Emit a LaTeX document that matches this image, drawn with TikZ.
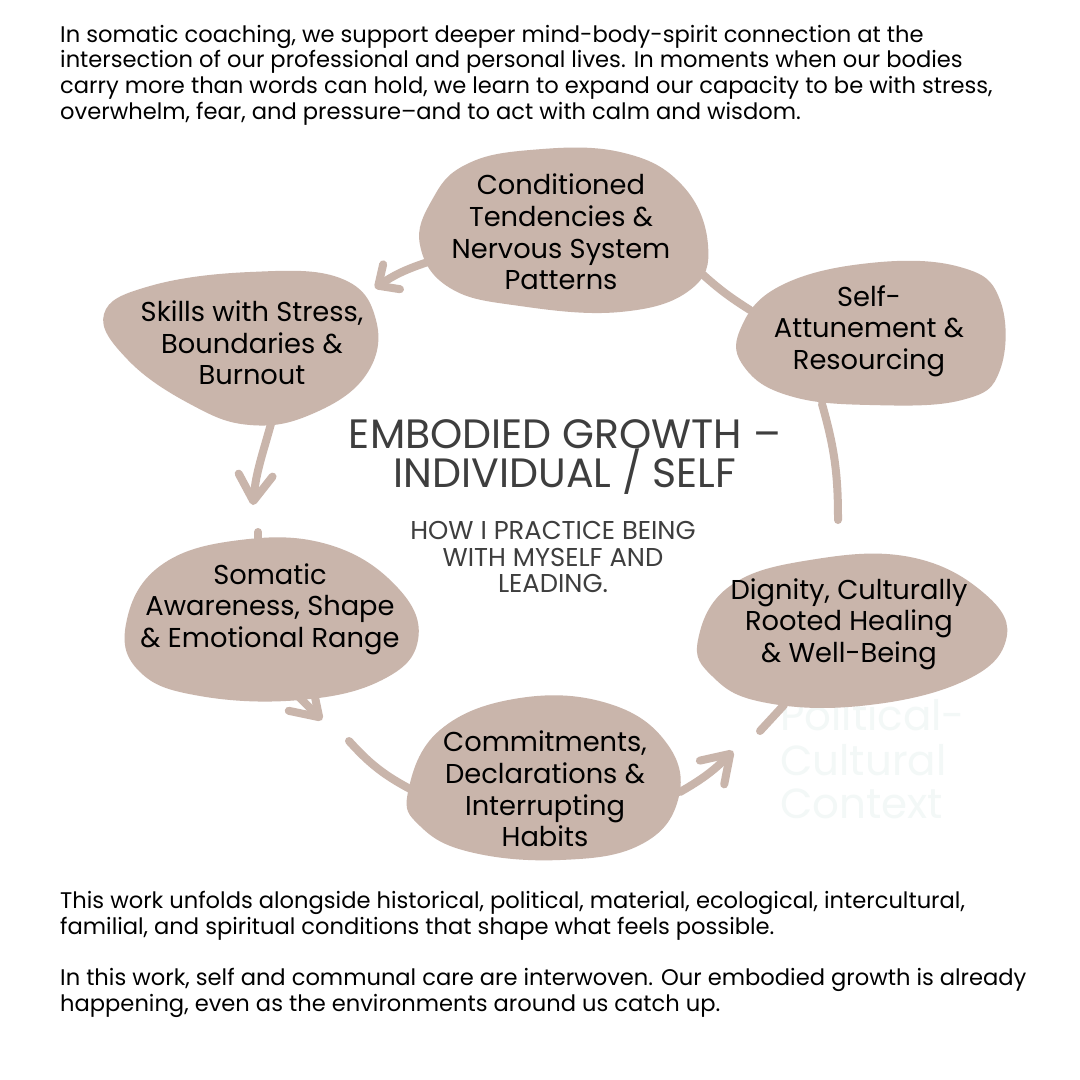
\documentclass[tikz,border=0pt]{standalone}
\usepackage{fontspec}
\setmainfont{Poppins}
\usetikzlibrary{arrows.meta}
\definecolor{blobtan}{RGB}{201,181,171}
\definecolor{titlegray}{RGB}{62,62,62}
\definecolor{ghost}{RGB}{243,248,247}

\begin{document}
\begin{tikzpicture}[x=1pt, y=-1pt,
    blob/.style={fill=blobtan},
    blobtext/.style={align=center, inner sep=0pt, font=\fontsize{27.3}{31.7}\selectfont},
    bodyline/.style={anchor=base west, inner sep=0pt, font=\fontsize{22.6}{25.7}\selectfont},
    ghostline/.style={anchor=base west, inner sep=0pt, text=ghost, font=\fontsize{42}{43}\selectfont},
    link/.style={draw=blobtan, line width=8pt, line cap=round},
    tip/.style={-{Straight Barb[length=26pt, width=34pt, round]}},
    smalltip/.style={-{Straight Barb[length=16pt, width=30pt, round]}}]
    % Page
    \useasboundingbox[fill=white] (0,0) rectangle (1080,1080);

    % Intro paragraph
    \node[bodyline] (intro1) at (60,42) {In somatic coaching, we support deeper mind-body-spirit connection at the};
    \node[bodyline] (intro2) at (60,67.7) {intersection of our professional and personal lives. In moments when our bodies};
    \node[bodyline] (intro3) at (60,93.4) {carry more than words can hold, we learn to expand our capacity to be with stress,};
    \node[bodyline] (intro4) at (60,119) {overwhelm, fear, and pressure–and to act with calm and wisdom.};

    % Faint background words
    \node[ghostline] (context1) at (780,730) {Political-};
    \node[ghostline] (context2) at (780,775) {Cultural};
    \node[ghostline] (context3) at (780,818) {Context};

    % Blobs
    \fill[blob] plot[smooth cycle, tension=0.7] coordinates {(420,245) (432,200) (465,165) (530,150) (620,152) (682,185) (708,245) (690,290) (620,312) (520,306) (450,288)};
    \fill[blob] plot[smooth cycle, tension=0.7] coordinates {(104,314) (150,286) (250,272) (340,278) (376,320) (366,375) (312,414) (250,425) (190,404) (128,360)};
    \fill[blob] plot[smooth cycle, tension=0.7] coordinates {(740,330) (780,286) (870,263) (960,267) (1000,300) (1000,370) (962,400) (870,405) (790,396) (745,368)};
    \fill[blob] plot[smooth cycle, tension=0.7] coordinates {(126,624) (160,566) (240,540) (330,545) (398,588) (418,640) (382,680) (300,700) (200,696) (140,672)};
    \fill[blob] plot[smooth cycle, tension=0.7] coordinates {(698,640) (730,586) (810,560) (910,557) (985,594) (1006,640) (962,682) (860,706) (762,702) (712,676)};
    \fill[blob] plot[smooth cycle, tension=0.7] coordinates {(408,792) (440,730) (520,698) (610,704) (668,745) (678,800) (640,845) (560,860) (470,852) (420,826)};

    % Stage labels
    \node[blobtext] (conditioned) at (561,232) {Conditioned\\Tendencies \&\\Nervous System\\Patterns};
    \node[blobtext] (skills) at (252,343) {Skills with Stress,\\Boundaries \&\\Burnout};
    \node[blobtext] (attune) at (869,331) {Self-\\Attunement \&\\Resourcing};
    \node[blobtext] (somatic) at (270,609) {Somatic\\Awareness, Shape\\\& Emotional Range};
    \node[blobtext] (dignity) at (849,624) {Dignity, Culturally\\Rooted Healing\\\& Well-Being};
    \node[blobtext] (commit) at (545,789) {Commitments,\\Declarations \&\\Interrupting\\Habits};

    % Connector ends
    \coordinate (cond-w) at (428,262);
    \coordinate (skills-ne) at (375,288);
    \coordinate (skills-s) at (272,420);
    \coordinate (somatic-in) at (253,505);
    \coordinate (somatic-top) at (258,532);
    \coordinate (somatic-n) at (258,546);
    \coordinate (somatic-se) at (296,694);
    \coordinate (somatic-out) at (322,720);
    \coordinate (commit-in) at (349,741);
    \coordinate (commit-w) at (412,790);
    \coordinate (commit-e) at (680,792);
    \coordinate (dignity-in) at (733,751);
    \coordinate (dignity-tail) at (760,731);
    \coordinate (dignity-sw) at (784,705);
    \coordinate (dignity-up) at (838,520);
    \coordinate (attune-s) at (822,404);
    \coordinate (attune-w) at (750,310);
    \coordinate (cond-e) at (700,272);

    % Cycle
    \draw[link, smalltip] (cond-w) to[bend right=8] (skills-ne);
    \draw[link, tip] (skills-s) to[out=255, in=85] (somatic-in);
    \draw[link] (somatic-top) -- (somatic-n);
    \draw[link, tip] (somatic-se) -- (somatic-out);
    \draw[link] (commit-in) to[bend right=10] (commit-w);
    \draw[link, tip] (commit-e) to[bend right=8] (dignity-in);
    \draw[link] (dignity-tail) -- (dignity-sw);
    \draw[link] (dignity-up) to[bend right=8] (attune-s);
    \draw[link] (attune-w) to[bend left=5] (cond-e);

    % Title
    \node[align=center, inner sep=0pt, text=titlegray, font=\fontsize{41}{35}\selectfont] (title) at (565,457) {EMBODIED GROWTH –\\INDIVIDUAL / SELF};
    \node[align=center, inner sep=0pt, text=titlegray, font=\fontsize{25.8}{26.7}\selectfont] (subtitle) at (553,557) {HOW I PRACTICE BEING\\WITH MYSELF AND\\LEADING.};

    % Closing paragraphs
    \node[bodyline] (outro1) at (60,908.3) {This work unfolds alongside historical, political, material, ecological, intercultural,};
    \node[bodyline] (outro2) at (60,934) {familial, and spiritual conditions that shape what feels possible.};
    \node[bodyline] (outro3) at (60,985.5) {In this work, self and communal care are interwoven. Our embodied growth is already};
    \node[bodyline] (outro4) at (60,1011) {happening, even as the environments around us catch up.};
\end{tikzpicture}
\end{document}
